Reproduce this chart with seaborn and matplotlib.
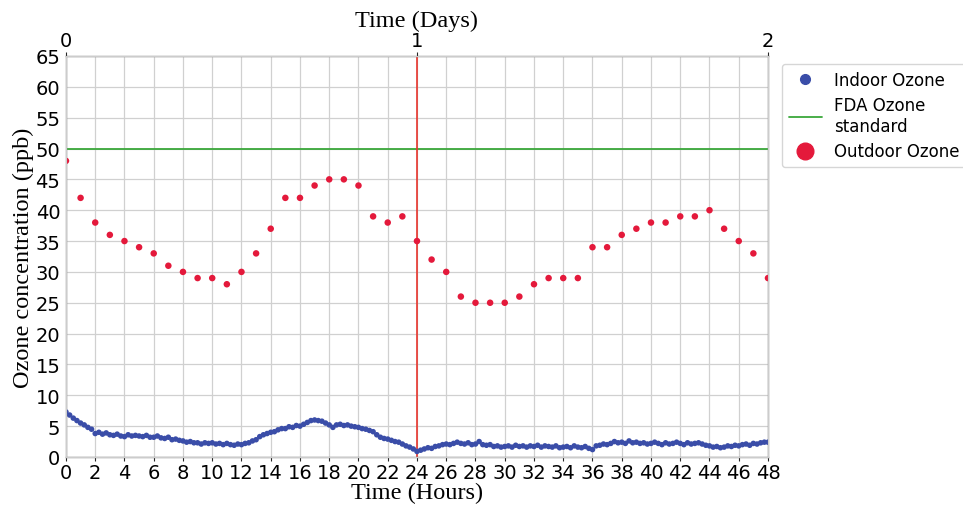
import matplotlib
matplotlib.use('Agg')
import matplotlib.pyplot as plt
from matplotlib.lines import Line2D
import numpy as np
import pandas as pd
import seaborn as sns

# outdoor ozone, hourly readings (ppb)
outdoor_hours = list(range(0, 49))
outdoor_ppb = [48, 42, 38, 36, 35, 34, 33, 31, 30, 29, 29, 28, 30, 33, 37, 42, 42, 44, 45, 45,
               44, 39, 38, 39, 35, 32, 30, 26, 25, 25, 25, 26, 28, 29, 29, 29, 34, 34, 36, 37,
               38, 38, 39, 39, 40, 37, 35, 33, 29]

# indoor ozone, read every 15 minutes (ppb)
indoor_ppb = [7.3, 6.8, 6.3, 5.9, 5.5, 5.2, 4.8, 4.5, 3.8, 4.0, 3.7, 3.9, 3.6, 3.5, 3.7, 3.4,
              3.3, 3.6, 3.4, 3.5, 3.4, 3.3, 3.5, 3.2, 3.2, 3.4, 3.1, 3.0, 3.2, 2.8, 2.9, 2.7,
              2.6, 2.4, 2.5, 2.3, 2.3, 2.1, 2.3, 2.2, 2.3, 2.1, 2.2, 2.0, 2.2, 2.0, 1.9, 2.1,
              2.0, 2.2, 2.3, 2.6, 2.8, 3.3, 3.6, 3.8, 4.0, 4.1, 4.4, 4.6, 4.6, 4.9, 4.8, 5.1,
              5.0, 5.3, 5.6, 5.9, 6.0, 5.9, 5.8, 5.5, 5.2, 4.8, 5.2, 5.3, 5.1, 5.2, 5.0, 4.9,
              4.8, 4.6, 4.5, 4.3, 4.1, 3.6, 3.2, 3.0, 2.9, 2.7, 2.5, 2.4, 2.1, 1.8, 1.6, 1.3,
              0.9, 1.1, 1.3, 1.5, 1.4, 1.7, 1.8, 2.0, 2.1, 2.0, 2.2, 2.4, 2.2, 2.1, 2.3, 2.0,
              2.1, 2.5, 2.0, 1.9, 2.0, 1.7, 1.8, 1.6, 1.7, 1.8, 1.6, 1.9, 1.7, 1.8, 1.6, 1.8,
              1.7, 1.9, 1.6, 1.8, 1.7, 1.6, 1.8, 1.5, 1.6, 1.7, 1.5, 1.8, 1.6, 1.5, 1.7, 1.4,
              1.2, 1.8, 1.9, 2.1, 2.0, 2.2, 2.5, 2.3, 2.4, 2.2, 2.6, 2.3, 2.4, 2.2, 2.3, 2.1,
              2.2, 2.4, 2.2, 2.0, 2.3, 2.1, 2.2, 2.4, 2.2, 2.0, 2.3, 2.1, 2.2, 2.3, 2.1, 1.9,
              1.8, 1.6, 1.7, 1.5, 1.6, 1.8, 1.7, 1.9, 1.8, 2.0, 2.1, 1.9, 2.2, 2.1, 2.3, 2.4,
              2.4]
indoor_hours = np.arange(len(indoor_ppb)) * 0.25

fda_standard = 50
day_ticks = [0, 1, 2]
hour_ticks = list(range(0, 49, 2))
ppb_ticks = list(range(0, 66, 5))

azul = "#3a4da8"
rojo = "#e4193b"
verde = "#3aa83a"
linea_roja = "#e8352c"

sns.set_style('whitegrid')
plt.rcParams['font.family'] = ['DejaVu Sans']

indoor_df = pd.DataFrame({'hora': indoor_hours, 'ppb': indoor_ppb})
outdoor_df = pd.DataFrame({'hora': outdoor_hours, 'ppb': outdoor_ppb})

fig = plt.figure(figsize=(9.63, 5.06), dpi=100)
ax = fig.add_axes([0.0685, 0.0949, 0.7290, 0.7925])

sns.scatterplot(data=indoor_df, x='hora', y='ppb', color=azul, s=16, edgecolor='none', ax=ax, zorder=3)
sns.scatterplot(data=outdoor_df, x='hora', y='ppb', color=rojo, s=22, edgecolor='none', ax=ax, zorder=3)
ax.axhline(fda_standard, color=verde, lw=1.3, zorder=2)
ax.axvline(24, color=linea_roja, lw=1.2, zorder=2)

ax.set_xlim(0, 48)
ax.set_ylim(0, 65)
ax.set_xticks(hour_ticks)
ax.set_yticks(ppb_ticks)
ax.grid(True, color='#d0d0d0', lw=0.9)
ax.tick_params(axis='both', labelsize=14, length=3, pad=1, labelcolor='black')
for s in ax.spines.values():
    s.set_color('#888888')
    s.set_linewidth(1.0)
ax.set_xlabel('Time (Hours)', family='Liberation Serif', fontsize=17.5, labelpad=0, color='black')
ax.set_ylabel('Ozone concentration (ppb)', family='Liberation Serif', fontsize=17.5, labelpad=1, color='black')

ax2 = ax.twiny()
ax2.set_xlim(0, 2)
ax2.set_xticks(day_ticks)
ax2.grid(False)
ax2.tick_params(axis='x', labelsize=14, length=3, pad=1, labelcolor='black')
ax2.set_xlabel('Time (Days)', family='Liberation Serif', fontsize=17.5, labelpad=4, color='black')

referencias = [Line2D([], [], marker='o', ls='', color=azul, markersize=7),
               Line2D([], [], color=verde, lw=1.3),
               Line2D([], [], marker='o', ls='', color=rojo, markersize=12)]
leg = ax.legend(referencias, ['Indoor Ozone', 'FDA Ozone\nstandard', 'Outdoor Ozone'],
                loc='upper left', bbox_to_anchor=(1.02, 0.98), fontsize=12, frameon=True,
                handlelength=2.0, handletextpad=0.7, labelspacing=0.45, borderaxespad=0)
for t in leg.get_texts():
    t.set_color('black')

fig.savefig('out.png', dpi=100)
